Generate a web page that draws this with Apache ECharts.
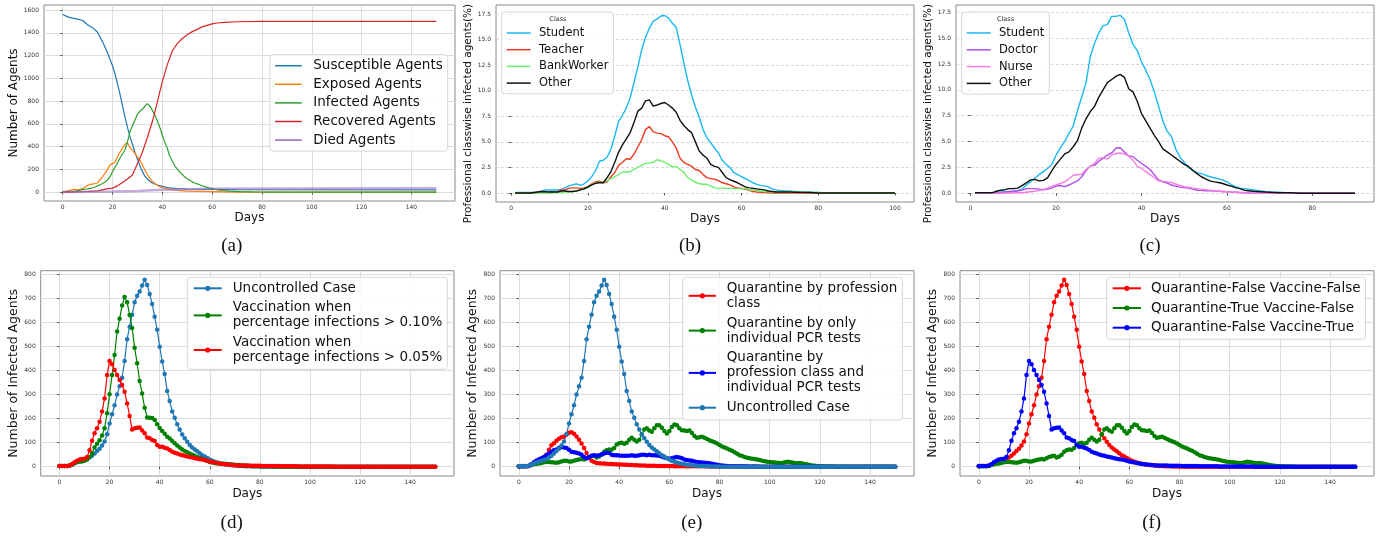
<!DOCTYPE html>
<html>
<head>
<meta charset="utf-8">
<script src="https://cdn.jsdelivr.net/npm/echarts@6/dist/echarts.min.js"></script>
<style>
html,body{margin:0;padding:0;background:#fff}
#chart{width:1381px;height:538px}
</style>
</head>
<body>
<div id="chart"></div>
<script>
// ---- (a) SEIRD curves, [day, agents]
var susceptible = [[0,1560],[2,1540],[4,1528],[6,1520],[8,1508],[10,1470],[12,1445],[14,1405],[16,1320],[18,1225],[20,1110],[21,1040],[22,950],[23,860],[24,760],[25,660],[26,570],[27,490],[28,420],[29,350],[30,290],[31,230],[32,180],[33,140],[34,115],[35,95],[36,80],[38,62],[40,50],[42,40],[44,34],[46,30],[50,27],[55,25],[60,24],[70,22],[150,20]];
var exposed = [[0,0],[2,10],[4,22],[5,25],[6,18],[8,30],[10,60],[11,68],[13,75],[14,80],[16,135],[18,200],[19,237],[20,250],[21,262],[22,310],[23,350],[24,384],[25,420],[26,434],[27,390],[28,370],[29,340],[30,310],[31,281],[32,240],[33,193],[34,155],[35,120],[36,95],[37,76],[38,60],[39,47],[40,38],[42,29],[45,18],[47,12],[50,8],[55,6],[60,4],[65,2],[70,0],[150,0]];
var recovered = [[0,0],[5,2],[10,5],[14,10],[16,20],[18,30],[20,35],[22,55],[24,85],[26,115],[28,150],[30,250],[32,350],[34,480],[36,620],[38,790],[40,970],[42,1120],[44,1240],[46,1305],[48,1350],[50,1382],[52,1410],[54,1430],[56,1452],[58,1465],[60,1478],[62,1486],[65,1492],[70,1497],[80,1500],[150,1500]];
var died = [[0,0],[10,2],[20,5],[30,10],[40,20],[50,26],[60,30],[80,32],[150,33]];

// ---- daily infected counts, day 0..150
var uncontrolled = [3,3,3,3,4,8,13,18,22,25,
  28,32,38,45,55,65,75,88,105,135,
  180,218,255,300,335,370,440,530,582,632,
  684,711,728,753,777,756,718,677,624,569,
  499,437,385,315,273,229,204,176,155,134,
  118,104,90,80,72,64,56,48,42,36,
  30,25,21,17,14,12,10,8,7,6,
  5,4,3,3,2,2,2,1,1,1,
  1,0,0,0,0,0,0,0,0,0,
  0,0,0,0,0,0,0,0,0,0,
  0,0,0,0,0,0,0,0,0,0,
  0,0,0,0,0,0,0,0,0,0,
  0,0,0,0,0,0,0,0,0,0,
  0,0,0,0,0,0,0,0,0,0,
  0,0,0,0,0,0,0,0,0,0,
  0];
var vacc010 = [3,3,3,3,5,10,15,20,22,22,
  25,30,40,55,80,95,110,130,160,222,
  301,381,464,562,615,670,706,684,631,577,
  495,430,356,304,245,205,204,202,194,177,
  161,148,137,125,117,107,97,88,80,72,
  65,60,55,50,45,40,36,32,28,24,
  20,17,15,13,12,12,12,11,10,9,
  8,7,6,5,5,4,4,3,3,3,
  3,2,2,2,2,1,1,1,1,1,
  0,0,0,0,0,0,0,0,0,0,
  0,0,0,0,0,0,0,0,0,0,
  0,0,0,0,0,0,0,0,0,0,
  0,0,0,0,0,0,0,0,0,0,
  0,0,0,0,0,0,0,0,0,0,
  0,0,0,0,0,0,0,0,0,0,
  0];
var vacc005 = [3,3,3,3,5,10,18,25,30,32,
  33,40,68,108,139,160,187,229,284,381,
  440,426,402,381,360,340,312,263,211,155,
  160,162,163,151,139,121,118,111,107,90,
  83,83,79,76,69,62,58,55,51,48,
  45,42,40,38,35,33,31,30,28,25,
  22,20,17,15,13,11,10,9,8,7,
  6,5,5,5,5,5,4,4,4,4,
  4,3,3,3,3,3,3,3,2,2,
  2,2,2,2,2,2,1,1,1,1,
  1,1,1,1,1,1,1,1,1,1,
  0,0,0,0,0,0,0,0,0,0,
  0,0,0,0,0,0,0,0,0,0,
  0,0,0,0,0,0,0,0,0,0,
  0,0,0,0,0,0,0,0,0,0,
  0];
var quarProf = [2,2,2,2,3,8,15,25,29,33,
  39,50,70,89,98,108,116,122,126,133,
  141,143,137,126,112,96,78,57,36,25,
  19,15,14,13,13,12,11,11,10,10,
  9,9,8,8,7,7,6,6,5,5,
  5,4,4,4,4,3,3,3,3,3,
  3,3,2,2,2,2,2,2,2,2,
  2,2,2,2,2,2,1,1,1,1,
  1,1,1,1,1,1,0,0,0,0,
  0,0,0,0,0,0,0,0,0,0,
  0,0,0,0,0,0,0,0,0,0,
  0,0,0,0,0,0,0,0,0,0,
  0,0,0,0,0,0,0,0,0,0,
  0,0,0,0,0,0,0,0,0,0,
  0,0,0,0,0,0,0,0,0,0,
  0];
var quarPCR = [2,2,2,2,3,7,10,12,13,15,
  18,20,20,18,17,16,18,22,25,25,
  22,22,25,28,30,32,30,35,40,43,
  45,38,42,50,62,68,72,70,78,92,
  98,100,95,100,112,120,112,105,112,135,
  155,160,150,145,160,172,172,162,148,138,
  148,165,175,172,160,152,150,148,150,140,
  128,120,122,124,120,115,110,106,102,96,
  90,84,80,76,70,66,60,54,48,44,
  40,37,35,33,32,30,28,25,23,21,
  19,18,17,16,15,15,18,21,20,17,
  15,14,15,13,11,9,7,5,4,3,
  2,2,1,1,1,1,0,0,0,0,
  0,0,0,0,0,0,0,0,0,0,
  0,0,0,0,0,0,0,0,0,0,
  0];
var quarBoth = [2,2,2,2,4,10,18,25,30,35,
  40,48,55,62,68,72,78,82,80,78,
  70,62,60,58,55,50,40,35,40,45,
  48,45,48,52,55,58,57,50,48,48,
  47,45,45,45,45,48,46,45,48,50,
  50,48,50,48,48,47,45,42,38,35,
  33,35,38,40,38,35,30,28,26,25,
  22,20,18,17,16,15,14,12,10,8,
  6,5,4,3,2,2,2,2,2,2,
  2,1,1,1,1,1,0,0,0,0,
  0,0,0,0,0,0,0,0,0,0,
  0,0,0,0,0,0,0,0,0,0,
  0,0,0,0,0,0,0,0,0,0,
  0,0,0,0,0,0,0,0,0,0,
  0,0,0,0,0,0,0,0,0,0,
  0];

// ---- (b) class-wise infected %, day 1..100
var studentB = [0.05,0.05,0.05,0.05,0.05,0.05,0.1,0.2,0.3,0.3,
  0.3,0.3,0.35,0.5,0.7,0.8,0.9,0.75,0.9,1.2,
  1.6,2.2,3.1,3.2,3.5,4.3,5.6,7.0,7.6,8.3,
  9.3,10.8,12.3,14.0,15.2,16.1,16.8,17.0,17.3,17.35,
  17.1,16.6,16.2,14.5,12.7,11.0,9.6,8.4,7.4,6.2,
  5.4,4.9,4.4,3.9,3.2,2.8,2.5,2.0,1.8,1.6,
  1.4,1.2,1.0,0.85,0.75,0.7,0.6,0.4,0.3,0.25,
  0.22,0.2,0.18,0.15,0.12,0.1,0.1,0.08,0.05,0.05,
  0.03,0.02,0.01,0,0,0,0,0,0,0,
  0,0,0,0,0,0,0,0,0,0];
var teacherB = [0,0,0,0,0,0,0.1,0.1,0.1,0.1,
  0.1,0.1,0.3,0.3,0.45,0.5,0.5,0.45,0.5,0.6,
  0.9,1.1,1.15,1.0,1.1,1.6,2.0,2.7,3.0,3.35,
  3.3,3.8,4.5,5.2,6.2,6.5,6.0,5.85,5.8,5.6,
  5.5,5.0,4.4,3.4,3.0,2.8,2.6,2.3,2.2,1.8,
  1.5,1.4,1.35,1.2,1.0,0.9,0.8,0.6,0.5,0.45,
  0.35,0.25,0.15,0.1,0.08,0.05,0.03,0,0,0,
  0,0,0,0,0,0,0,0,0,0,
  0,0,0,0,0,0,0,0,0,0,
  0,0,0,0,0,0,0,0,0,0];
var bankB = [0,0,0,0,0,0,0,0,0,0,
  0.05,0.05,0.05,0.1,0.1,0.15,0.2,0.3,0.4,0.5,
  0.8,1.0,1.05,1.05,1.2,1.4,1.6,1.8,2.05,2.05,
  2.1,2.3,2.5,2.7,2.9,2.95,3.0,3.25,3.15,3.0,
  2.8,2.55,2.6,2.3,2.0,1.5,1.25,1.05,0.9,0.85,
  0.85,0.7,0.5,0.45,0.5,0.45,0.45,0.45,0.4,0.4,
  0.45,0.3,0.3,0.25,0.2,0.15,0.12,0.1,0.1,0.1,
  0.1,0.1,0.1,0.1,0.1,0.08,0.06,0.05,0.05,0.05,
  0.02,0,0,0,0,0,0,0,0,0,
  0,0,0,0,0,0,0,0,0,0];
var otherB = [0,0,0,0,0,0.05,0.1,0.15,0.12,0.1,
  0.1,0.1,0.2,0.2,0.15,0.15,0.2,0.3,0.4,0.6,
  0.8,0.95,1.0,1.0,1.5,2.1,3.0,4.0,4.7,5.3,
  5.9,6.9,8.0,8.3,9.0,9.1,8.5,8.6,8.75,8.85,
  8.6,8.3,7.9,7.1,6.6,6.2,5.9,5.0,4.1,3.7,
  3.4,2.8,2.6,2.5,2.0,1.5,1.3,1.15,1.0,0.8,
  0.6,0.5,0.45,0.4,0.35,0.3,0.2,0.15,0.1,0.1,
  0.1,0.1,0.1,0.08,0.08,0.06,0.05,0.05,0.03,0,
  0,0,0,0,0,0,0,0,0,0,
  0,0,0,0,0,0,0,0,0,0];

// ---- (c) class-wise infected %, day 1..90
var studentC = [0.05,0.05,0.05,0.05,0.05,0.1,0.12,0.15,0.18,0.2,
  0.25,0.4,0.8,1.1,1.45,1.8,2.1,2.4,2.8,3.7,
  4.4,5.0,5.8,6.5,8.0,9.3,10.7,13.2,14.5,15.5,
  16.2,16.3,17.1,17.1,17.2,16.8,15.5,14.4,13.8,12.7,
  11.9,11.0,9.8,8.4,7.0,6.0,5.5,4.3,3.5,3.0,
  2.5,2.25,2.0,1.9,1.75,1.6,1.5,1.4,1.3,1.1,
  0.85,0.65,0.5,0.45,0.4,0.35,0.28,0.22,0.17,0.13,
  0.1,0.1,0.08,0.06,0.05,0.03,0,0,0,0,
  0,0,0,0,0,0,0,0,0,0];
var doctorC = [0,0,0,0,0.05,0.05,0.05,0.1,0.15,0.2,
  0.25,0.3,0.45,0.45,0.45,0.4,0.35,0.4,0.5,0.7,
  0.75,0.65,0.8,1.0,1.2,1.6,2.2,2.65,2.7,3.1,
  3.4,3.7,3.9,4.35,4.4,4.0,3.6,3.55,3.2,2.9,
  2.6,2.3,1.8,1.3,1.1,1.0,0.8,0.7,0.6,0.55,
  0.5,0.4,0.3,0.28,0.25,0.25,0.22,0.2,0.18,0.15,
  0.12,0.1,0.08,0.05,0.03,0,0,0,0,0,
  0,0,0,0,0,0,0,0,0,0,
  0,0,0,0,0,0,0,0,0,0];
var nurseC = [0,0,0,0,0,0,0,0.02,0.03,0.05,
  0.05,0.05,0.1,0.15,0.2,0.3,0.35,0.5,0.7,0.8,
  0.95,1.1,1.4,1.75,1.8,1.85,2.3,2.6,2.9,3.4,
  3.45,3.3,3.7,3.85,3.9,3.8,3.6,3.2,2.6,2.4,
  2.1,1.8,1.5,1.2,1.15,1.1,1.05,0.9,0.75,0.65,
  0.6,0.5,0.45,0.4,0.35,0.3,0.25,0.2,0.18,0.15,
  0.12,0.1,0.08,0.05,0.03,0,0,0,0,0,
  0,0,0,0,0,0,0,0,0,0,
  0,0,0,0,0,0,0,0,0,0];
var otherC = [0.05,0.05,0.05,0.05,0.05,0.2,0.3,0.35,0.45,0.45,
  0.5,0.75,1.0,1.3,1.35,1.2,1.25,1.5,2.2,2.8,
  3.3,3.8,4.0,4.5,5.1,6.3,7.2,7.9,8.4,9.3,
  10.0,10.7,11.0,11.3,11.5,11.2,10.1,9.8,8.9,7.7,
  7.0,6.3,5.6,5.0,4.3,4.0,3.7,3.4,3.1,2.8,
  2.6,2.2,1.9,1.6,1.4,1.2,1.1,1.05,0.95,0.8,
  0.7,0.55,0.45,0.3,0.25,0.2,0.18,0.15,0.12,0.1,
  0.08,0.05,0.05,0.05,0.05,0.03,0,0,0,0,
  0,0,0,0,0,0,0,0,0,0];

// tick labels
var ticksDays150 = [0,20,40,60,80,100,120,140];
var ticksDays100 = [0,20,40,60,80,100];
var ticksDays90 = [0,20,40,60,80];
var ticksAgents = [0,200,400,600,800,1000,1200,1400,1600];
var ticksPct = [0,2.5,5,7.5,10,12.5,15,17.5];
var ticksInfected = [0,100,200,300,400,500,600,700,800];

function byDay(arr, start) {
  return arr.map(function (v, i) { return [start + i, v]; });
}

var FONT = 'DejaVu Sans';

function plainNum(v) { return String(v); }
function fix1(v) { return v.toFixed(1); }

function xAx(gi, min, max, ticks, gap, grid) {
  return {
    type: 'value', gridIndex: gi, min: min, max: max,
    name: 'Days', nameLocation: 'middle', nameGap: gap,
    nameTextStyle: {fontFamily: FONT, fontSize: 12, color: '#111', verticalAlign: 'middle'},
    axisLine: {show: false},
    axisTick: {show: true, length: 2.5, lineStyle: {color: '#555'}, customValues: ticks},
    axisLabel: {customValues: ticks, fontSize: 6, color: '#333', margin: 3.5, fontFamily: FONT, formatter: plainNum},
    splitLine: {show: grid, lineStyle: {color: '#dcdcdc', width: 1}}
  };
}
function yAx(gi, min, max, ticks, name, gap, fs, dashed, fmt, pad) {
  return {
    type: 'value', gridIndex: gi, min: min, max: max,
    name: name, nameLocation: 'middle', nameGap: gap,
    nameTextStyle: {fontFamily: FONT, fontSize: fs, color: '#111', verticalAlign: 'middle', padding: pad || 0},
    axisLine: {show: false},
    axisTick: {show: true, length: 2.5, lineStyle: {color: '#555'}, customValues: ticks},
    axisLabel: {customValues: ticks, fontSize: 6, color: '#333', margin: 5, fontFamily: FONT, formatter: fmt || plainNum},
    splitLine: {show: true, lineStyle: dashed ? {color: '#cfcfcf', width: 0.8, type: [3, 2]} : {color: '#dcdcdc', width: 1}}
  };
}
function plain(name, data, color, gi, width, opacity) {
  return {
    type: 'line', name: name, xAxisIndex: gi, yAxisIndex: gi, data: data,
    symbol: 'none', animation: false, silent: true,
    lineStyle: {color: color, width: width, opacity: opacity || 1},
    itemStyle: {color: color}
  };
}
function dotted(name, data, color, gi) {
  return {
    type: 'line', name: name, xAxisIndex: gi, yAxisIndex: gi, data: byDay(data, 0),
    symbol: 'circle', symbolSize: 4.5, showSymbol: true, animation: false, silent: true,
    lineStyle: {color: color, width: 1.2},
    itemStyle: {color: color}
  };
}
function legendBox(names, left, top, pad, gap, w, h, fs, lh, textPad, lineOnly) {
  var l = {
    orient: 'vertical', left: left, top: top, padding: pad, itemGap: gap,
    itemWidth: w, itemHeight: h, selectedMode: false,
    backgroundColor: 'rgba(255,255,255,0.85)', borderColor: '#d6d6d6', borderWidth: 1, borderRadius: 3,
    textStyle: {fontFamily: FONT, fontSize: fs, lineHeight: lh, color: '#111', padding: [0, 0, 0, textPad]},
    data: names
  };
  if (lineOnly) l.icon = 'rect';
  return l;
}

var nameU = 'Uncontrolled Case';
var nameV10 = 'Vaccination when\npercentage infections > 0.10%';
var nameV05 = 'Vaccination when\npercentage infections > 0.05%';
var nameQP = 'Quarantine by profession\nclass';
var nameQI = 'Quarantine by only\nindividual PCR tests';
var nameQB = 'Quarantine by\nprofession class and\nindividual PCR tests';
var nameFF = 'Quarantine-False Vaccine-False';
var nameTF = 'Quarantine-True Vaccine-False';
var nameFT = 'Quarantine-False Vaccine-True';

var gridBase = {show: true, borderColor: '#8a8a8a', borderWidth: 1, backgroundColor: 'transparent'};
function g(left, top, width, height) {
  return Object.assign({left: left, top: top, width: width, height: height}, gridBase);
}

function caption(t, x, y) {
  return {type: 'text', x: x, y: y, z: 100,
    style: {text: t, font: '19px "Liberation Serif"', fill: '#111', align: 'center', verticalAlign: 'middle',
      textAlign: 'center', textVerticalAlign: 'middle'}};
}
function classTitle(x) {
  return {type: 'text', x: x, y: 19.3, z: 100,
    style: {text: 'Class', font: '6.5px "DejaVu Sans"', fill: '#333', align: 'center', verticalAlign: 'middle',
      textAlign: 'center', textVerticalAlign: 'middle'}};
}

var myChart = echarts.init(document.getElementById('chart'));
var option = {
  animation: false,
  textStyle: {fontFamily: FONT},
  grid: [
    g(44, 5, 411, 196),
    g(496, 5, 418, 197),
    g(956, 5, 418, 197),
    g(40.7, 270.7, 413.3, 205.3),
    g(500, 270.7, 414, 205.3),
    g(960, 270.7, 414, 205.3)
  ],
  xAxis: [
    xAx(0, -7.5, 157.5, ticksDays150, 17.3, true),
    xAx(1, -3.95, 104.95, ticksDays100, 16.3, false),
    xAx(2, -3.45, 94.45, ticksDays90, 16.3, false),
    xAx(3, -7.5, 157.5, ticksDays150, 18, true),
    xAx(4, -7.5, 157.5, ticksDays150, 18, true),
    xAx(5, -7.5, 157.5, ticksDays150, 18, true)
  ],
  yAxis: [
    yAx(0, -78.3, 1644, ticksAgents, 'Number of Agents', 29.3, 12, false),
    yAx(1, -0.88, 18.38, ticksPct, 'Professional classwise infected agents(%)', 24, 10.5, true, fix1, [0, 20, 0, 0]),
    yAx(2, -0.84, 18.2, ticksPct, 'Professional classwise infected agents(%)', 24, 10.5, true, fix1, [0, 20, 0, 0]),
    yAx(3, -38.7, 815, ticksInfected, 'Number of Infected Agents', 26.7, 12.5, false),
    yAx(4, -38.7, 815, ticksInfected, 'Number of Infected Agents', 26, 12.5, false),
    yAx(5, -38.7, 815, ticksInfected, 'Number of Infected Agents', 26, 12.5, false)
  ],
  legend: [
    legendBox(['Susceptible Agents', 'Exposed Agents', 'Infected Agents', 'Recovered Agents', 'Died Agents'],
      270, 54.7, [3, 5, 3, 5], 2.6, 26.7, 1.5, 13.5, 16, 6.6, true),
    legendBox(['Student', 'Teacher', 'BankWorker', 'Other'],
      501.7, 12, [14, 5, 3.7, 5], 2.7, 24, 1.5, 11.5, 14, 3.3, true),
    legendBox(['Student', 'Doctor', 'Nurse', 'Other'],
      961.7, 12, [14, 5, 3.7, 5], 2.8, 24, 1.5, 11.5, 14, 3.3, true),
    legendBox([nameU, nameV10, nameV05],
      187.7, 277.3, [3.5, 5, 4.3, 5], 4.6, 28, 6.5, 13.5, 15, 6, false),
    legendBox([nameQP, nameQI, nameQB, nameU],
      682.7, 277.3, [3.5, 5, 4.8, 5], 4.8, 27.3, 6.5, 13.5, 15, 5.7, false),
    legendBox([nameFF, nameTF, nameFT],
      1106.7, 277.3, [3.5, 5, 4, 5], 4.7, 28.3, 6.5, 13.5, 15, 5, false)
  ],
  graphic: [
    classTitle(557.9), classTitle(1005.5),
    caption('(a)', 231.7, 246), caption('(b)', 690, 246), caption('(c)', 1150, 246),
    caption('(d)', 231.7, 523), caption('(e)', 691.7, 523), caption('(f)', 1151.7, 523)
  ],
  series: [
    plain('Susceptible Agents', susceptible, '#1f77b4', 0, 1.2),
    plain('Exposed Agents', exposed, '#ff7f0e', 0, 1.2),
    plain('Infected Agents', byDay(uncontrolled, 0), '#2ca02c', 0, 1.2),
    plain('Recovered Agents', recovered, '#d62728', 0, 1.2),
    plain('Died Agents', died, '#9467bd', 0, 2.5, 0.55),

    plain('Student', byDay(studentB, 1), '#1ab8f0', 1, 1.4),
    plain('Teacher', byDay(teacherB, 1), '#ee3b1f', 1, 1.4),
    plain('BankWorker', byDay(bankB, 1), '#6cf06c', 1, 1.4),
    plain('Other', byDay(otherB, 1), '#111111', 1, 1.4),

    plain('Student', byDay(studentC, 1), '#1ab8f0', 2, 1.4),
    plain('Doctor', byDay(doctorC, 1), '#b04ee8', 2, 1.4),
    plain('Nurse', byDay(nurseC, 1), '#f47fe0', 2, 1.4),
    plain('Other', byDay(otherC, 1), '#111111', 2, 1.4),

    dotted(nameU, uncontrolled, '#1f77b4', 3),
    dotted(nameV10, vacc010, '#008000', 3),
    dotted(nameV05, vacc005, '#ff0000', 3),

    dotted(nameQP, quarProf, '#ff0000', 4),
    dotted(nameQI, quarPCR, '#008000', 4),
    dotted(nameQB, quarBoth, '#0000ff', 4),
    dotted(nameU, uncontrolled, '#1f77b4', 4),

    dotted(nameFF, uncontrolled, '#ff0000', 5),
    dotted(nameTF, quarPCR, '#008000', 5),
    dotted(nameFT, vacc005, '#0000ff', 5)
  ]
};
myChart.setOption(option);
</script>
</body>
</html>
